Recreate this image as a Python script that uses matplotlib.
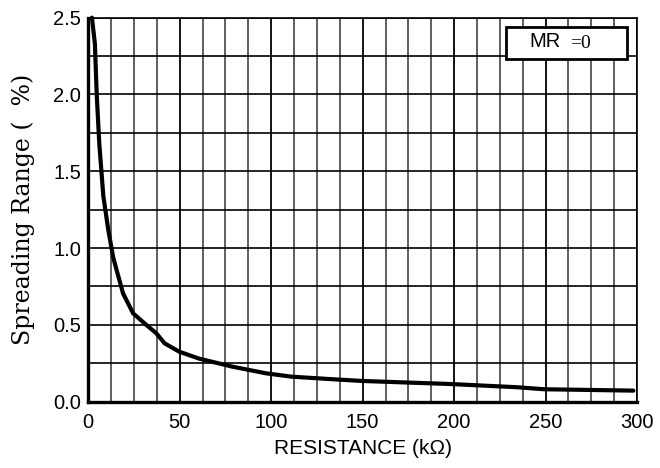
import numpy as np
import matplotlib
matplotlib.use("Agg")
import matplotlib.pyplot as plt
from matplotlib.ticker import MultipleLocator

# values
resistance = [2, 3.6, 4.6, 6, 8.2, 10.9, 13.6, 15.4, 19, 24.5, 31.7, 37.2,
              41.7, 49.8, 60.7, 78.8, 97, 111, 131, 149.5, 198, 234.6, 249, 298]
spread = [2.5, 2.33, 2.0, 1.68, 1.34, 1.12, 0.94, 0.86, 0.705, 0.575, 0.5, 0.445,
          0.38, 0.325, 0.28, 0.228, 0.185, 0.163, 0.148, 0.135, 0.115, 0.094, 0.081, 0.072]

x_ticks = [0, 50, 100, 150, 200, 250, 300]
y_ticks = [0.0, 0.5, 1.0, 1.5, 2.0, 2.5]

fig = plt.figure(figsize=(6.6, 4.68), dpi=100)
ax = fig.add_axes([0.1338, 0.1417, 0.8314, 0.8205])

ax.set_xlim(0, 300)
ax.set_ylim(0, 2.5)
ax.set_xticks(x_ticks)
ax.set_yticks(y_ticks)
ax.set_yticklabels(["%.1f" % v for v in y_ticks])
ax.xaxis.set_minor_locator(MultipleLocator(12.5))
ax.yaxis.set_minor_locator(MultipleLocator(0.25))

# grid
ax.grid(which="major", axis="x", color="black", lw=1.3)
ax.grid(which="minor", axis="x", color="#444444", lw=1.2)
ax.grid(which="both", axis="y", color="black", lw=1.2)
ax.set_axisbelow(True)

ax.tick_params(which="both", length=0)
ax.tick_params(axis="x", pad=8)
ax.tick_params(axis="y", pad=5)
for lab in ax.get_xticklabels() + ax.get_yticklabels():
    lab.set_family("Liberation Sans")
    lab.set_fontsize(14.5)

ax.spines["left"].set_linewidth(2.4)
ax.spines["bottom"].set_linewidth(2.4)
ax.spines["top"].set_linewidth(1.2)
ax.spines["right"].set_linewidth(1.2)

ax.plot(resistance, spread, color="black", lw=3, solid_capstyle="round",
        solid_joinstyle="round", clip_on=False, zorder=5)

ax.set_xlabel("RESISTANCE (k\u03a9)", family="Liberation Sans", fontsize=15, labelpad=5)
ax.set_ylabel("Spreading Range (  %)", family="DejaVu Serif", fontsize=17, labelpad=13)

# MR box
box = plt.Rectangle((0.761, 0.892), 0.22, 0.085, transform=ax.transAxes,
                    facecolor="white", edgecolor="black", lw=2, zorder=6)
ax.add_patch(box)
ax.text(0.861, 0.937, "MR", transform=ax.transAxes, ha="right", va="center",
        family="Liberation Sans", fontsize=14.5, zorder=7)
ax.text(0.878, 0.934, "=0", transform=ax.transAxes, ha="left", va="center",
        family="Liberation Serif", fontsize=14, zorder=7)

fig.savefig("out.png", dpi=100)
